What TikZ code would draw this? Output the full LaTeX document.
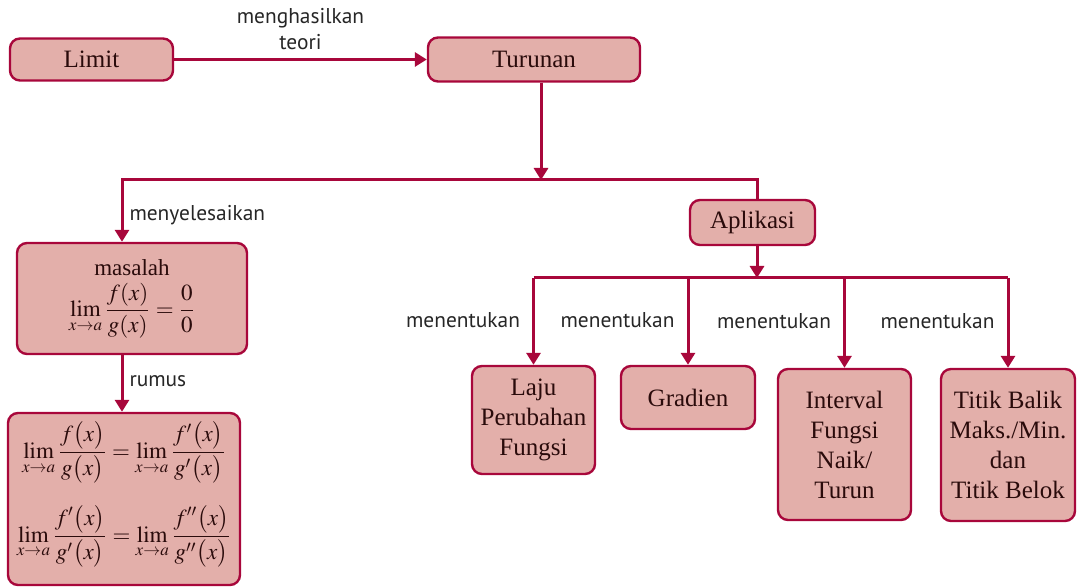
\documentclass[tikz,border=0pt]{standalone}
\usepackage{amsmath}
\usepackage{mathptmx}
\usepackage[no-math]{fontspec}
\setmainfont{Liberation Serif}
\newfontfamily\lblfont{PT Sans}
\usepackage{tikz}
\usetikzlibrary{arrows.meta,positioning,calc}

\definecolor{crimson}{HTML}{A8073B}
\definecolor{boxfill}{HTML}{E3AFAA}
\definecolor{boxtext}{HTML}{2A0B0B}

\begin{document}
\begin{tikzpicture}[
    x=0.5pt, y=-0.5pt,
    >={Triangle[length=6pt,width=7pt]},
    concept/.style={draw=crimson, fill=boxfill, line width=1.2pt,
      rounded corners=5pt, align=center, inner sep=0pt, text=boxtext,
      font=\fontsize{12.5}{15}\selectfont},
    lbl/.style={font=\lblfont\fontsize{10.7}{12}\selectfont, text=black!85,
      align=center, inner sep=3pt},
    conn/.style={draw=crimson, line width=1.5pt},
  ]
  \useasboundingbox (0,0) rectangle (1077,587);

  % Top row
  \node[concept, minimum width=81.5pt, minimum height=21pt] (limit) at (91.5,59.5) {Limit};
  \node[concept, minimum width=106pt, minimum height=22pt] (turunan) at (534,59.5) {Turunan};

  % Left branch
  \node[concept, minimum width=115pt, minimum height=55.5pt,
    font=\fontsize{11.5}{14}\selectfont] (masalah) at (132,298.5)
    {masalah\\[3pt]
     $\displaystyle\lim_{x\to a}\frac{f(x)}{g(x)}=\frac{0}{0}$};
  \node[concept, minimum width=116pt, minimum height=86pt,
    font=\fontsize{11.5}{13}\selectfont] (rumus) at (124,499)
    {$\displaystyle\lim_{x\to a}\frac{f\bigl(x\bigr)}{g\bigl(x\bigr)}
      =\lim_{x\to a}\frac{f'\bigl(x\bigr)}{g'\bigl(x\bigr)}$\\[10pt]
     $\displaystyle\lim_{x\to a}\frac{f'\bigl(x\bigr)}{g'\bigl(x\bigr)}
      =\lim_{x\to a}\frac{f''\bigl(x\bigr)}{g''\bigl(x\bigr)}$\\[4pt]};

  % Right branch
  \node[concept, minimum width=62.5pt, minimum height=22.5pt] (aplikasi) at (752.5,222.5) {Aplikasi};
  \node[concept, minimum width=61.5pt, minimum height=54pt] (laju) at (533.5,420)
    {Laju\\Perubahan\\Fungsi};
  \node[concept, minimum width=67pt, minimum height=31.5pt] (gradien) at (688,397.5)
    {Gradien};
  \node[concept, minimum width=66.5pt, minimum height=75.5pt] (interval) at (844.5,444.5)
    {Interval\\Fungsi\\Naik/\\Turun};
  \node[concept, minimum width=67pt, minimum height=76pt] (titik) at (1008,445)
    {Titik Balik\\Maks./Min.\\dan\\Titik Belok};

  % Junctions
  \coordinate (jt) at (541,180);
  \coordinate (jl) at (122,180);
  \coordinate (jr) at (757,180);
  \coordinate (ja) at (757,278);

  % Connectors
  \draw[conn,->] (limit) -- node[lbl, above=1pt] {menghasilkan\\[1pt]teori} (turunan);
  \draw[conn,->] (turunan.south -| jt) -- (jt);
  \draw[conn,->] (aplikasi.north -| jr) -- (jr) -- (jl)
    -- node[lbl, right, pos=0.57] {menyelesaikan} (masalah.north -| jl);
  \draw[conn,->] (masalah.south -| jl) -- node[lbl, right, pos=0.45] {rumus} (rumus.north -| jl);
  \draw[conn,->] (aplikasi.south -| ja) -- (ja);
  \draw[conn] (ja -| laju) -- (ja -| titik);
  \foreach \n in {laju,gradien,interval,titik}
    \draw[conn,->] (ja -| \n) -- node[lbl, left=3pt, pos=0.48] {menentukan} (\n.north);
\end{tikzpicture}
\end{document}
